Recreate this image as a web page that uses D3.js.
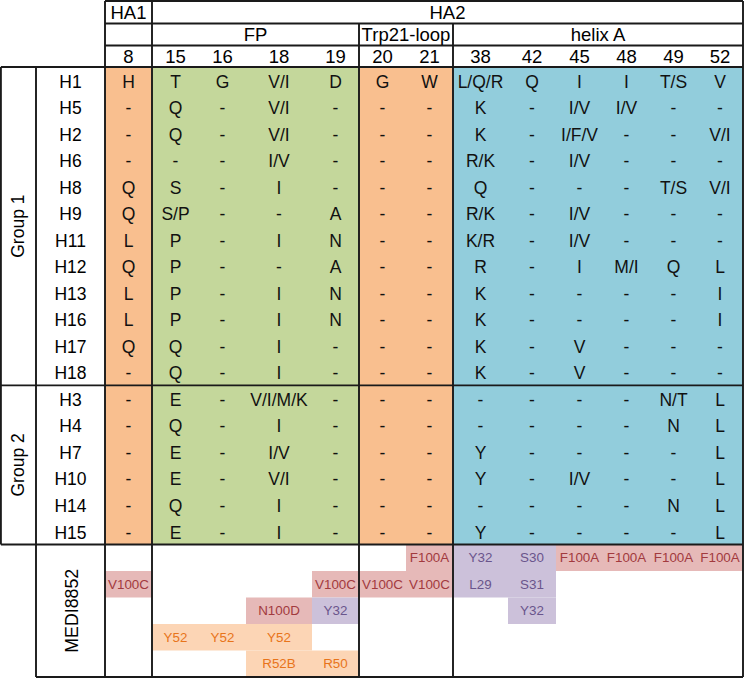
<!DOCTYPE html>
<html>
<head>
<meta charset="utf-8">
<script src="https://cdn.jsdelivr.net/npm/d3@7"></script>
<style>
  html, body { margin: 0; padding: 0; background: #fff; }
  svg { display: block; }
  text { font-family: "Liberation Sans", Arial, sans-serif; }
</style>
</head>
<body>
<svg id="chart" width="745" height="678"></svg>
<script>
// ---------------- DATA ----------------
const positions = ["8","15","16","18","19","20","21","38","42","45","48","49","52"];
const domains = [
  { name: "HA1", from: "8",  to: "8"  },
  { name: "HA2", from: "15", to: "52" }
];
const regions = [
  { name: "",            from: "8",  to: "8",  kind: "orange" },
  { name: "FP",          from: "15", to: "19", kind: "green"  },
  { name: "Trp21-loop",  from: "20", to: "21", kind: "orange" },
  { name: "helix A",     from: "38", to: "52", kind: "blue"   }
];
const subtypes = ["H1","H5","H2","H6","H8","H9","H11","H12","H13","H16","H17","H18","H3","H4","H7","H10","H14","H15"];
const groups = [
  { name: "Group 1", from: "H1", to: "H18" },
  { name: "Group 2", from: "H3", to: "H15" }
];
const residues = {
  H1:  ["H","T","G","V/I","D","G","W","L/Q/R","Q","I","I","T/S","V"],
  H5:  ["-","Q","-","V/I","-","-","-","K","-","I/V","I/V","-","-"],
  H2:  ["-","Q","-","V/I","-","-","-","K","-","I/F/V","-","-","V/I"],
  H6:  ["-","-","-","I/V","-","-","-","R/K","-","I/V","-","-","-"],
  H8:  ["Q","S","-","I","-","-","-","Q","-","-","-","T/S","V/I"],
  H9:  ["Q","S/P","-","-","A","-","-","R/K","-","I/V","-","-","-"],
  H11: ["L","P","-","I","N","-","-","K/R","-","I/V","-","-","-"],
  H12: ["Q","P","-","-","A","-","-","R","-","I","M/I","Q","L"],
  H13: ["L","P","-","I","N","-","-","K","-","-","-","-","I"],
  H16: ["L","P","-","I","N","-","-","K","-","-","-","-","I"],
  H17: ["Q","Q","-","I","-","-","-","K","-","V","-","-","-"],
  H18: ["-","Q","-","I","-","-","-","K","-","V","-","-","-"],
  H3:  ["-","E","-","V/I/M/K","-","-","-","-","-","-","-","N/T","L"],
  H4:  ["-","Q","-","I","-","-","-","-","-","-","-","N","L"],
  H7:  ["-","E","-","I/V","-","-","-","Y","-","-","-","-","L"],
  H10: ["-","E","-","V/I","-","-","-","Y","-","I/V","-","-","L"],
  H14: ["-","Q","-","I","-","-","-","-","-","-","-","N","L"],
  H15: ["-","E","-","I","-","-","-","Y","-","-","-","-","L"]
};
const antibody = "MEDI8852";
const contactSlots = ["s0","s1","s2","s3","s4"];
// [position, slot, antibody residue, CDR]
const contacts = [
  ["8","s1","V100C","HCDR3"],
  ["15","s3","Y52","HCDR2"],
  ["16","s3","Y52","HCDR2"],
  ["18","s2","N100D","HCDR3"],
  ["18","s3","Y52","HCDR2"],
  ["18","s4","R52B","HCDR2"],
  ["19","s1","V100C","HCDR3"],
  ["19","s2","Y32","LCDR1"],
  ["19","s4","R50","HCDR2"],
  ["20","s1","V100C","HCDR3"],
  ["21","s0","F100A","HCDR3"],
  ["21","s1","V100C","HCDR3"],
  ["38","s0","Y32","LCDR1"],
  ["38","s1","L29","LCDR1"],
  ["42","s0","S30","LCDR1"],
  ["42","s1","S31","LCDR1"],
  ["42","s2","Y32","LCDR1"],
  ["45","s0","F100A","HCDR3"],
  ["48","s0","F100A","HCDR3"],
  ["49","s0","F100A","HCDR3"],
  ["52","s0","F100A","HCDR3"]
];

// ---------------- LAYOUT / STYLE ----------------
const colWeights = { "8":47,"15":47,"16":47,"18":66,"19":47,"20":47,"21":47,"38":55,"42":48,"45":47,"48":47,"49":47,"52":46 };
const regionFill = { orange: "#F9BF8F", green: "#C4D79B", blue: "#92CDDC" };
const cdrFill = { HCDR3: "#E6B9B8", LCDR1: "#CCC1DA", HCDR2: "#FCD5B5" };
const cdrText = { HCDR3: "#A23A3E", LCDR1: "#6A558C", HCDR2: "#E8741A" };
const lineColor = "#1a1a1a", lineW = 1.9;

const X0 = 105, X1 = 743, XG = 36, XL = 0.9;
const headerY = [1, 23.5, 45.5, 67];
const bodyTop = 67, bodyBottom = 544.5, mediBottom = 677;

const cum = [0];
positions.forEach(p => cum.push(cum[cum.length - 1] + colWeights[p]));
const xs = d3.scaleLinear().domain([0, cum[cum.length - 1]]).range([X0, X1]);
const colLeft = p => xs(cum[positions.indexOf(p)]);
const colRight = p => xs(cum[positions.indexOf(p) + 1]);
const colMid = p => (colLeft(p) + colRight(p)) / 2;

const yBody = d3.scaleBand().domain(subtypes).range([bodyTop, bodyBottom]);
const yMedi = d3.scaleBand().domain(contactSlots).range([bodyBottom, mediBottom]);

const svg = d3.select("#chart");
const gBg = svg.append("g"), gLines = svg.append("g"), gText = svg.append("g");

// region backgrounds
gBg.selectAll("rect.region").data(regions).join("rect")
  .attr("x", d => colLeft(d.from)).attr("width", d => colRight(d.to) - colLeft(d.from))
  .attr("y", bodyTop).attr("height", bodyBottom - bodyTop)
  .attr("fill", d => regionFill[d.kind]);

// antibody contact cells
gBg.selectAll("rect.contact").data(contacts).join("rect")
  .attr("x", d => colLeft(d[0])).attr("width", d => colRight(d[0]) - colLeft(d[0]))
  .attr("y", d => yMedi(d[1])).attr("height", yMedi.bandwidth())
  .attr("fill", d => cdrFill[d[3]]);

// lines
function line(x1, y1, x2, y2) {
  gLines.append("line").attr("x1", x1).attr("y1", y1).attr("x2", x2).attr("y2", y2)
    .attr("stroke", lineColor).attr("stroke-width", lineW);
}
line(X0, headerY[0], X1, headerY[0]);
line(X0, headerY[1], X1, headerY[1]);
line(X0, headerY[2], X1, headerY[2]);
line(XL, headerY[3], X1, headerY[3]);
domains.forEach(d => { line(colLeft(d.from), headerY[0], colLeft(d.from), mediBottom); });
line(X1, headerY[0], X1, mediBottom);
regions.slice(1).forEach(r => {
  if (r.from !== "15") line(colLeft(r.from), headerY[1], colLeft(r.from), mediBottom);
});
const groupEdges = groups.map(g => ({ g, y0: yBody(g.from), y1: yBody(g.to) + yBody.bandwidth() }));
line(XL, groupEdges[0].y1, X1, groupEdges[0].y1);
line(XL, bodyBottom, X1, bodyBottom);
line(XG, mediBottom, X1, mediBottom);
line(XL, bodyTop, XL, bodyBottom);
line(XG, bodyTop, XG, mediBottom);

// header texts
const hfs = 18.5;
gText.selectAll("text.dom").data(domains).join("text")
  .attr("x", d => (colLeft(d.from) + colRight(d.to)) / 2).attr("y", (headerY[0] + headerY[1]) / 2 + 6.9)
  .attr("text-anchor", "middle").attr("font-size", hfs).text(d => d.name);
gText.selectAll("text.reg").data(regions.filter(r => r.name)).join("text")
  .attr("x", d => (colLeft(d.from) + colRight(d.to)) / 2).attr("y", (headerY[1] + headerY[2]) / 2 + 6.4)
  .attr("text-anchor", "middle").attr("font-size", hfs).text(d => d.name);
gText.selectAll("text.pos").data(positions).join("text")
  .attr("x", d => colMid(d)).attr("y", (headerY[2] + headerY[3]) / 2 + 6.6)
  .attr("text-anchor", "middle").attr("font-size", hfs).text(d => d);

// body texts
const bfs = 17.5;
gText.selectAll("text.sub").data(subtypes).join("text")
  .attr("x", (XG + X0) / 2).attr("y", d => yBody(d) + yBody.bandwidth() / 2 + 7.3)
  .attr("text-anchor", "middle").attr("font-size", bfs).text(d => d);
const cells = [];
subtypes.forEach(s => residues[s].forEach((v, i) => cells.push({ s, p: positions[i], v })));
gText.selectAll("text.cell").data(cells).join("text")
  .attr("x", d => colMid(d.p)).attr("y", d => yBody(d.s) + yBody.bandwidth() / 2 + 7.3)
  .attr("text-anchor", "middle").attr("font-size", bfs).attr("fill", "#111").text(d => d.v);

// group labels
gText.selectAll("text.grp").data(groupEdges).join("text")
  .attr("transform", d => `translate(${XG / 2 + 5.5},${(d.y0 + d.y1) / 2}) rotate(-90)`)
  .attr("text-anchor", "middle").attr("font-size", 17.5).text(d => d.g.name);
gText.append("text")
  .attr("transform", `translate(${(XG + X0) / 2 + 7},${(bodyBottom + mediBottom) / 2}) rotate(-90)`)
  .attr("text-anchor", "middle").attr("font-size", 17.8).text(antibody);

// contact texts
gText.selectAll("text.ct").data(contacts).join("text")
  .attr("x", d => colMid(d[0])).attr("y", d => yMedi(d[1]) + yMedi.bandwidth() / 2 + 4.7)
  .attr("text-anchor", "middle").attr("font-size", 13.4).attr("fill", d => cdrText[d[3]]).text(d => d[2]);
</script>
</body>
</html>
